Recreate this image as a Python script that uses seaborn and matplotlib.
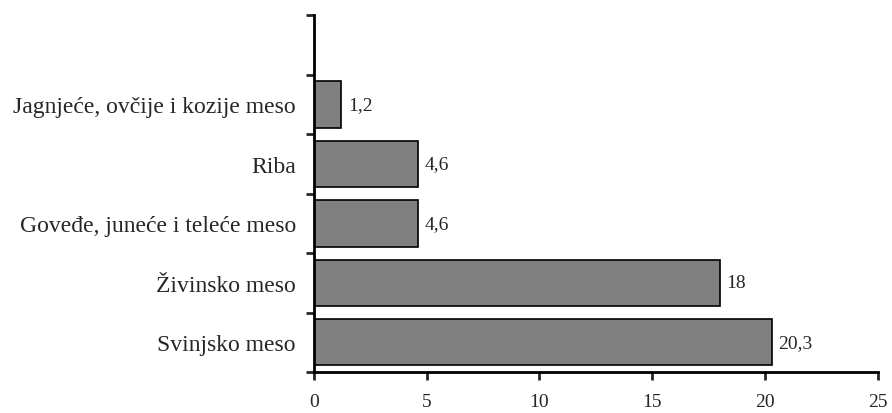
import matplotlib
matplotlib.use("Agg")
import matplotlib.pyplot as plt
import seaborn as sns
import pandas as pd

categories = ["Jagnjeće, ovčije i kozije meso", "Riba", "Goveđe, juneće i teleće meso",
              "Živinsko meso", "Svinjsko meso"]
values = [1.2, 4.6, 4.6, 18, 20.3]
xticks = [0, 5, 10, 15, 20, 25]

sns.set_style("white")
plt.rcParams['font.family'] = ['Liberation Serif', 'DejaVu Serif']

df = pd.DataFrame({"cat": categories, "val": values})

fig = plt.figure(figsize=(8.92, 4.14), dpi=100)
ax = fig.add_axes([0.352, 0.099, 0.632, 0.862])
sns.barplot(data=df, y="cat", x="val", order=categories, orient="h",
            color="#808080", edgecolor="black", linewidth=1.2, width=0.78,
            saturation=1, ax=ax)

n = len(categories)
ax.set_ylim(n - 0.5, -1.5)
ax.set_xlim(0, 25)
ax.set_xticks(xticks)
ax.set_xticklabels([str(t) for t in xticks], fontsize=14)
bounds = [i - 0.5 for i in range(-1, n + 1)]
ax.set_yticks(bounds)
ax.set_yticklabels([""] * len(bounds))
ax.set_yticks(range(n), minor=True)
ax.set_yticklabels(categories, minor=True, fontsize=17)
ax.tick_params(axis="y", which="minor", length=0, pad=13)
ax.tick_params(axis="y", which="major", length=6, width=2, direction="out", left=True)
ax.tick_params(axis="x", length=6, width=2, direction="out", bottom=True, pad=9)
ax.set_xlabel("")
ax.set_ylabel("")
for s in ["top", "right"]:
    ax.spines[s].set_visible(False)
for s in ["left", "bottom"]:
    ax.spines[s].set_linewidth(2)
    ax.spines[s].set_color("black")

for i, v in enumerate(values):
    ax.text(v + 0.3, i, f"{v:g}".replace(".", ","), va="center", ha="left", fontsize=14)

fig.savefig("out.png", dpi=100)
